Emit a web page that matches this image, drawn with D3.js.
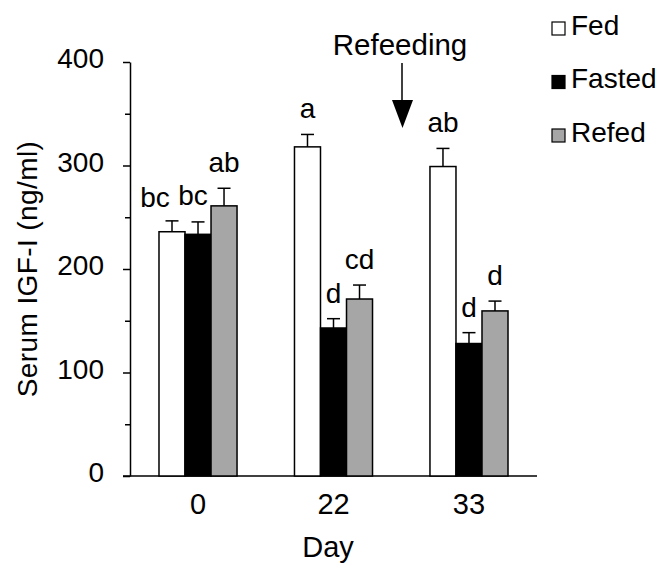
<!DOCTYPE html>
<html>
<head>
<meta charset="utf-8">
<script src="https://cdn.jsdelivr.net/npm/d3@7"></script>
<style>
  html, body { margin: 0; padding: 0; background: #fff; }
  svg { display: block; }
  text { font-family: "Liberation Sans", Arial, Helvetica, sans-serif; fill: #000; }
</style>
</head>
<body>
<svg id="chart" width="666" height="575"></svg>
<script>
// ---- data ----
const days = ["0", "22", "33"];
const groups = ["Fed", "Fasted", "Refed"];
const fedValues = [236, 318, 299];
const fedErrors = [10.5, 12, 17.5];
const fastedValues = [233.5, 143, 128];
const fastedErrors = [12, 9, 10.5];
const refedValues = [261, 171, 159.5];
const refedErrors = [17, 13.5, 9.5];
const fedLetters = ["bc", "a", "ab"];
const fastedLetters = ["bc", "d", "d"];
const refedLetters = ["ab", "cd", "d"];
const yTicks = [0, 100, 200, 300, 400];
const yMinorTicks = [50, 150, 250, 350];

const seriesValues = [fedValues, fastedValues, refedValues];
const seriesErrors = [fedErrors, fastedErrors, refedErrors];
const seriesLetters = [fedLetters, fastedLetters, refedLetters];
const fills = { Fed: "#ffffff", Fasted: "#000000", Refed: "#a6a6a6" };

const rows = [];
days.forEach((d, i) => groups.forEach((g, j) => rows.push({
  day: d, group: g, value: seriesValues[j][i], err: seriesErrors[j][i], letter: seriesLetters[j][i], gi: j, di: i
})));

const svg = d3.select("#chart");
const x = d3.scaleBand().domain(days).range([130, 537]).paddingInner(0.424).paddingOuter(0.214);
const xs = d3.scaleBand().domain(groups).range([0, x.bandwidth()]).padding(0);
const y = d3.scaleLinear().domain([0, 400]).range([476, 62]);

// y axis
const yAxisG = svg.append("g").attr("transform", "translate(130,0)")
  .call(d3.axisLeft(y).tickValues(yTicks).tickSize(7).tickPadding(19).tickSizeOuter(0));
yAxisG.attr("font-family", null).attr("font-size", null);
yAxisG.select(".domain").attr("stroke", "#000").attr("stroke-width", 1.5);
yAxisG.selectAll(".tick line").attr("stroke", "#000").attr("stroke-width", 1.5);
yAxisG.selectAll(".tick text").style("font-size", "28px").attr("dy", "0.2em");
svg.append("g").attr("transform", "translate(130,0)")
  .call(d3.axisLeft(y).tickValues(yMinorTicks).tickSize(5).tickFormat("").tickSizeOuter(0))
  .call(g => g.select(".domain").remove())
  .call(g => g.selectAll(".tick line").attr("stroke", "#000").attr("stroke-width", 1.5));

// x axis
const xAxisG = svg.append("g").attr("transform", "translate(0,476)")
  .call(d3.axisBottom(x).tickSize(0).tickPadding(17).tickSizeOuter(0));
xAxisG.attr("font-family", null).attr("font-size", null);
xAxisG.select(".domain").attr("d", "M123,0H537").attr("stroke", "#000").attr("stroke-width", 1.5);
xAxisG.selectAll(".tick text").style("font-size", "29px");

// bars
const barG = svg.append("g");
barG.selectAll("rect").data(rows).join("rect")
  .attr("x", d => x(d.day) + xs(d.group))
  .attr("y", d => y(d.value))
  .attr("width", xs.bandwidth())
  .attr("height", d => y(0) - y(d.value))
  .attr("fill", d => fills[d.group])
  .attr("stroke", "#000").attr("stroke-width", 1.5);

// error bars (upper only)
const capW = 13;
const errG = svg.append("g").attr("stroke", "#000").attr("stroke-width", 1.5);
rows.forEach(d => {
  const cx = x(d.day) + xs(d.group) + xs.bandwidth() / 2;
  errG.append("line").attr("x1", cx).attr("x2", cx).attr("y1", y(d.value)).attr("y2", y(d.value + d.err));
  errG.append("line").attr("x1", cx - capW / 2).attr("x2", cx + capW / 2).attr("y1", y(d.value + d.err)).attr("y2", y(d.value + d.err));
});

// significance letters (first two labels of day 0 nudged apart to avoid overlap)
const nudge = (d) => (d.di === 0 && d.gi === 0) ? { dx: -17, dy: 2 } : (d.di === 0 && d.gi === 1) ? { dx: -5, dy: -1 } : { dx: 0, dy: 0 };
svg.append("g").selectAll("text").data(rows).join("text")
  .attr("x", d => x(d.day) + xs(d.group) + xs.bandwidth() / 2 + nudge(d).dx)
  .attr("y", d => y(d.value + d.err) - 16 + nudge(d).dy)
  .attr("text-anchor", "middle")
  .style("font-size", "28px")
  .text(d => d.letter);

// axis titles
svg.append("text").attr("x", 328).attr("y", 557).attr("text-anchor", "middle").style("font-size", "29px").text("Day");
svg.append("text").attr("transform", "translate(37,269) rotate(-90)").attr("text-anchor", "middle")
  .style("font-size", "28px").style("letter-spacing", "0.4px").text("Serum IGF-I (ng/ml)");

// refeeding annotation
svg.append("text").attr("x", 400).attr("y", 55).attr("text-anchor", "middle").style("font-size", "29.5px").text("Refeeding");
svg.append("line").attr("x1", 402).attr("x2", 402).attr("y1", 63).attr("y2", 102).attr("stroke", "#000").attr("stroke-width", 1.5);
svg.append("path").attr("d", "M392,100L413,100L402.5,128Z").attr("fill", "#000");

// legend
const leg = svg.append("g").selectAll("g").data(groups).join("g")
  .attr("transform", (d, i) => `translate(552,${22 + i * 53.5})`);
leg.append("rect").attr("width", 13).attr("height", 13).attr("fill", d => fills[d]).attr("stroke", "#000").attr("stroke-width", 1.2);
leg.append("text").attr("x", 19).attr("y", 12.5).style("font-size", "28px").text(d => d);
</script>
</body>
</html>
